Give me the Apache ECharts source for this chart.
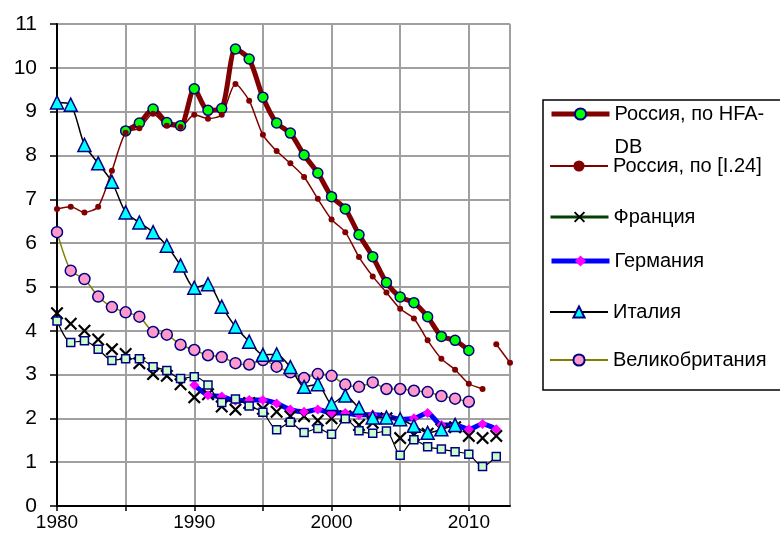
<!DOCTYPE html>
<html>
<head>
<meta charset="utf-8">
<script src="https://cdn.jsdelivr.net/npm/echarts@6/dist/echarts.min.js"></script>
<style>html,body{margin:0;padding:0;background:#fff}#c{width:780px;height:540px}</style>
</head>
<body>
<div id="c"></div>
<script>
const years = [1980,1981,1982,1983,1984,1985,1986,1987,1988,1989,1990,1991,1992,1993,1994,1995,1996,1997,1998,1999,2000,2001,2002,2003,2004,2005,2006,2007,2008,2009,2010,2011,2012,2013];
const yTicks = [0,1,2,3,4,5,6,7,8,9,10,11];

// Россия, по HFA-DB: 1985-2010
const russiaHfaStart = 1985;
const russiaHfa = [8.56,8.74,9.06,8.75,8.68,9.52,9.03,9.07,10.43,10.2,9.33,8.74,8.51,8.01,7.6,7.06,6.78,6.19,5.69,5.1,4.77,4.64,4.32,3.87,3.78,3.55];
// Россия, по [I.24]: 1980-2011, then 2012-2013
const russiaRefStart = 1980;
const russiaRef = [6.78,6.83,6.7,6.83,7.65,8.52,8.62,8.95,8.68,8.65,8.93,8.84,8.93,9.63,9.25,8.47,8.1,7.82,7.51,7.01,6.54,6.25,5.68,5.24,4.87,4.5,4.28,3.78,3.36,3.11,2.79,2.67];
const russiaRef2Start = 2012;
const russiaRef2 = [3.69,3.27];
// Франция: 1980-2012
const franceStart = 1980;
const france = [4.4,4.16,4.0,3.8,3.58,3.47,3.26,3.01,2.97,2.78,2.48,2.55,2.27,2.2,2.35,2.22,2.15,2.05,2.05,1.95,2.0,2.05,1.85,1.9,2.0,1.55,1.62,1.65,1.75,1.8,1.6,1.55,1.6];
// Германия: 1990-2012
const germanyStart = 1990;
const germany = [2.76,2.53,2.5,2.4,2.42,2.42,2.34,2.2,2.15,2.2,2.12,2.12,2.08,2.08,2.05,1.98,2.0,2.12,1.85,1.85,1.75,1.87,1.75];
// Италия: 1980-2009
const italyStart = 1980;
const italy = [9.21,9.16,8.24,7.82,7.4,6.7,6.47,6.25,5.94,5.49,4.98,5.06,4.55,4.09,3.75,3.45,3.46,3.17,2.72,2.78,2.33,2.52,2.24,2.02,2.02,1.98,1.83,1.67,1.75,1.85];
// Великобритания: 1980-2010
const ukStart = 1980;
const uk = [6.25,5.37,5.18,4.78,4.54,4.42,4.32,3.97,3.91,3.68,3.56,3.44,3.4,3.26,3.23,3.33,3.18,3.05,2.92,3.01,2.97,2.77,2.72,2.82,2.67,2.67,2.63,2.6,2.51,2.45,2.38];
// unlabeled series (squares): 1980-2012
const otherStart = 1980;
const other = [4.22,3.73,3.77,3.58,3.32,3.36,3.36,3.18,3.09,2.91,2.95,2.76,2.36,2.44,2.28,2.14,1.74,1.91,1.68,1.77,1.64,1.99,1.72,1.66,1.71,1.16,1.51,1.35,1.3,1.24,1.18,0.9,1.13];

const names = {
  hfa: 'Россия, по HFA-DB',
  ref: 'Россия, по [I.24]',
  fr: 'Франция',
  de: 'Германия',
  it: 'Италия',
  uk: 'Великобритания',
  other: 'Прочие'
};

function pad(start, values) {
  return years.map(y => {
    const i = y - start;
    return (i >= 0 && i < values.length) ? values[i] : null;
  });
}

const FONT = '"Liberation Sans", Arial, sans-serif';
const xPath = 'path://M0,1.2L1.2,0L5,3.8L8.8,0L10,1.2L6.2,5L10,8.8L8.8,10L5,6.2L1.2,10L0,8.8L3.8,5Z';

const chart = echarts.init(document.getElementById('c'), null, {renderer: 'canvas'});

const common = {type: 'line', smooth: 0.25, showAllSymbol: true, animation: false, connectNulls: false};

function legendAt(item, centerY, extra) {
  return Object.assign({
    left: 549, top: centerY - 7,
    itemWidth: 58, itemHeight: 14, itemGap: 0,
    padding: 0,
    textStyle: {fontFamily: FONT, fontSize: 20, color: '#000', lineHeight: 14},
    data: [item],
    selectedMode: false
  }, extra || {});
}

const option = {
  animation: false,
  backgroundColor: '#fff',
  grid: {left: 57, top: 24, right: 270, bottom: 34},
  xAxis: {
    type: 'category',
    data: years,
    boundaryGap: false,
    axisLine: {lineStyle: {color: '#000', width: 2}},
    axisTick: {show: true, length: 5, interval: (i) => i % 5 === 0, lineStyle: {color: '#000', width: 1.5}},
    axisLabel: {interval: (i, v) => Number(v) % 10 === 0, fontFamily: FONT, fontSize: 19, color: '#000', margin: 7},
    splitLine: {show: true, interval: (i) => i % 5 === 0 || i === years.length - 1, lineStyle: {color: '#a0a0a0', width: 2}}
  },
  yAxis: {
    type: 'value',
    min: yTicks[0], max: yTicks[yTicks.length - 1], interval: 1,
    axisLine: {show: true, lineStyle: {color: '#000', width: 2}},
    axisTick: {show: true, length: 7, lineStyle: {color: '#000', width: 1.5}},
    axisLabel: {fontFamily: FONT, fontSize: 21, color: '#000', margin: 20},
    splitLine: {show: true, lineStyle: {color: '#a0a0a0', width: 2}}
  },
  graphic: [{
    type: 'rect', z: -1,
    shape: {x: 543, y: 100, width: 260, height: 290},
    style: {fill: '#fff', stroke: '#000', lineWidth: 1.5}
  }],
  legend: [
    legendAt({name: names.hfa, lineStyle: {color: '#800000', width: 5, opacity: 1}}, 114, {
      top: 114 - 49.5,
      formatter: () => ' \nРоссия, по HFA-\nDB',
      textStyle: {fontFamily: FONT, fontSize: 20, color: '#000', lineHeight: 33}
    }),
    legendAt(names.ref, 163),
    legendAt({name: names.fr, lineStyle: {color: '#004000', width: 3, opacity: 1}}, 214),
    legendAt({name: names.de, lineStyle: {color: '#0000ff', width: 5, opacity: 1}}, 258),
    legendAt(names.it, 309),
    legendAt(names.uk, 357)
  ],
  series: [
    Object.assign({}, common, {
      name: names.fr, data: pad(franceStart, france),
      symbol: xPath, symbolSize: 13,
      itemStyle: {color: '#000'},
      lineStyle: {color: '#004000', width: 3, opacity: 0}
    }),
    Object.assign({}, common, {
      name: names.de, data: pad(germanyStart, germany),
      symbol: 'diamond', symbolSize: 10,
      itemStyle: {color: '#ff00ff'},
      lineStyle: {color: '#0000ff', width: 5}
    }),
    Object.assign({}, common, {
      name: names.other, data: pad(otherStart, other),
      symbol: 'rect', symbolSize: 8,
      itemStyle: {color: '#ccffcc', borderColor: '#000080', borderWidth: 1.5},
      lineStyle: {color: '#000', width: 1.2}
    }),
    Object.assign({}, common, {
      name: names.uk, data: pad(ukStart, uk),
      symbol: 'circle', symbolSize: 11,
      itemStyle: {color: '#ff99cc', borderColor: '#000080', borderWidth: 1.5},
      lineStyle: {color: '#808000', width: 1.5}
    }),
    Object.assign({}, common, {
      name: names.it, data: pad(italyStart, italy),
      symbol: 'triangle', symbolSize: 13,
      itemStyle: {color: '#00ffff', borderColor: '#000080', borderWidth: 1.5},
      lineStyle: {color: '#000', width: 1.5}
    }),
    Object.assign({}, common, {
      name: names.hfa, data: pad(russiaHfaStart, russiaHfa),
      symbol: 'circle', symbolSize: 10,
      itemStyle: {color: '#00ff00', borderColor: '#000080', borderWidth: 1.5},
      lineStyle: {color: '#800000', width: 5}
    }),
    Object.assign({}, common, {
      name: names.ref, data: pad(russiaRefStart, russiaRef),
      symbol: 'circle', symbolSize: 6,
      itemStyle: {color: '#800000'},
      lineStyle: {color: '#800000', width: 1.5}
    }),
    Object.assign({}, common, {
      name: names.ref, data: pad(russiaRef2Start, russiaRef2),
      symbol: 'circle', symbolSize: 6,
      itemStyle: {color: '#800000'},
      lineStyle: {color: '#800000', width: 1.5}
    })
  ]
};
chart.setOption(option);
</script>
</body>
</html>
